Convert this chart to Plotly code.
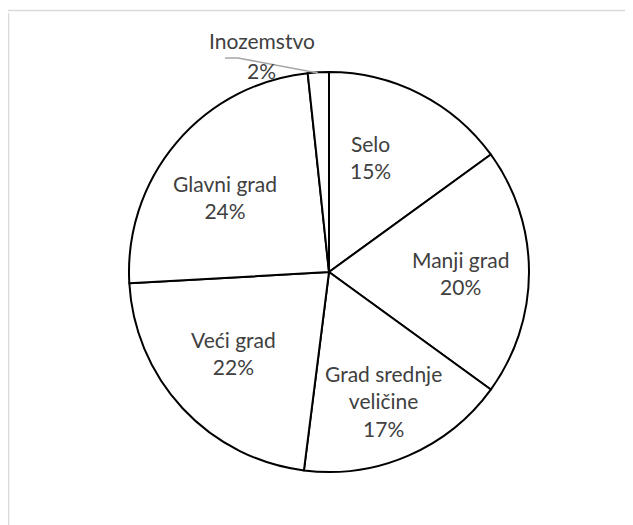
import plotly.graph_objects as go

categories = ["Selo", "Manji grad", "Grad srednje<br>veličine", "Veći grad", "Glavni grad", "Inozemstvo"]
values = [15.0, 20.0, 17.0, 22.1, 24.2, 1.7]

# page has an 8px body margin; layout coordinates are given in page pixels and shifted
OFF = 8
W, H = 633, 525
cx, cy, r = 329 - OFF, 272 - OFF, 200

# label centres (page pixels) for each slice: (name centre, percent centre) for the outside one
label_pos = [(370, 157), (461, 273), (383, 401), (233, 353), (225, 197), (262, 40)]
outside_pct_pos = (261, 70)

FONT = dict(family="Lato, Open Sans, sans-serif", size=21, color="#404040")

fig = go.Figure(go.Pie(
    labels=categories,
    values=values,
    sort=False,
    direction="clockwise",
    rotation=0,
    textinfo="none",
    marker=dict(colors=["white"] * len(values), line=dict(color="black", width=2)),
    domain=dict(x=[(cx - r) / W, (cx + r) / W], y=[(H - cy - r) / H, (H - cy + r) / H]),
    showlegend=False,
    hoverinfo="label+percent",
))


def P(x, y):
    return (x - OFF) / W, 1 - (y - OFF) / H


def label(txt, px, py):
    x, y = P(px, py)
    fig.add_annotation(x=x, y=y, xref="paper", yref="paper", xanchor="center", yanchor="middle",
                       text=txt, showarrow=False, font=FONT, align="center")


total = sum(values)
for cat, v, (px, py) in zip(categories, values, label_pos):
    pct = f"{round(v / total * 100)}%"
    if cat == "Inozemstvo":
        label(cat, px, py)
        label(pct, *outside_pct_pos)
    else:
        label(f"{cat}<br>{pct}", px, py)

shapes = []
lx0, ly0 = P(225, 58)
lx1, ly1 = P(238, 58)
lx2, ly2 = P(318, 73)
shapes.append(dict(type="path", xref="paper", yref="paper",
                   path=f"M {lx0} {ly0} L {lx1} {ly1} L {lx2} {ly2}",
                   line=dict(color="#a6a6a6", width=1.5)))
# chart-area border (cropped)
bx0, by0 = P(7.5, 10.5)
shapes.append(dict(type="line", xref="paper", yref="paper", x0=bx0, y0=by0, x1=1, y1=by0,
                   line=dict(color="#d9d9d9", width=1.5)))
bx1, by1 = P(7.5, 13)
shapes.append(dict(type="line", xref="paper", yref="paper", x0=0.5 / W, y0=by1, x1=0.5 / W, y1=0,
                   line=dict(color="#d9d9d9", width=1.5)))

fig.update_layout(
    width=W, height=H,
    margin=dict(l=0, r=0, t=0, b=0),
    paper_bgcolor="white",
    plot_bgcolor="white",
    shapes=shapes,
)

fig.write_html("out.html")
